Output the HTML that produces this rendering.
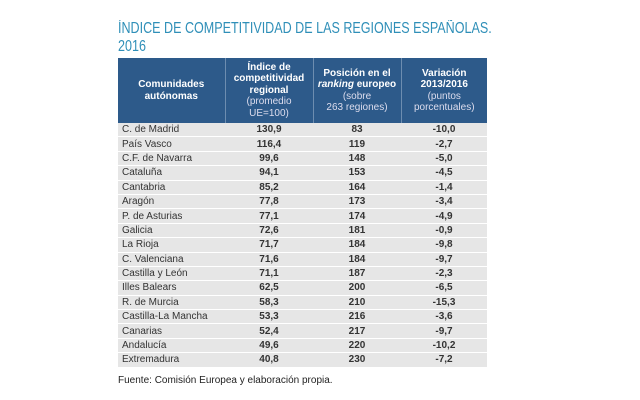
<!DOCTYPE html>
<html><head><meta charset="utf-8"><style>
body{margin:0;width:640px;height:400px;background:#fff;font-family:"Liberation Sans",sans-serif;position:relative;overflow:hidden}
.t{position:absolute;left:118px;top:20px;color:#2f8fb8;font-size:15.5px;line-height:18px;white-space:nowrap;transform:scaleX(0.81);transform-origin:0 0}
table{position:absolute;left:118px;top:58px;width:369px;border-collapse:collapse;font-size:10px;color:#333}
th{background:#2d5a8a;color:#fff;font-weight:bold;font-size:10px;line-height:11.5px;height:65px;padding:0;border-right:1px solid #6d8db0;text-align:center}
th:last-child{border-right:none}
th span{font-weight:normal;color:#dde}
td{background:#e6e6e6;height:13.4px;padding:0;border-bottom:1px solid #fff;line-height:13px}
td:first-child{padding-left:4px;width:103px}
td:nth-child(2){width:88px;text-align:center;font-weight:bold}
td:nth-child(3){width:88px;text-align:center;font-weight:bold}
td:nth-child(4){text-align:center;font-weight:bold}
.f{position:absolute;left:118px;top:375px;font-size:10px;color:#222}
</style></head><body>
<div class="t">ÍNDICE DE COMPETITIVIDAD DE LAS REGIONES ESPAÑOLAS.<br>2016</div>
<table>
<tr><th>Comunidades<br>autónomas</th><th>Índice de<br>competitividad<br>regional<br><span>(promedio<br>UE=100)</span></th><th>Posición en el<br><i>ranking</i> europeo<br><span>(sobre<br>263 regiones)</span></th><th>Variación<br>2013/2016<br><span>(puntos<br>porcentuales)</span></th></tr>
<tr><td>C. de Madrid</td><td>130,9</td><td>83</td><td>-10,0</td></tr>
<tr><td>País Vasco</td><td>116,4</td><td>119</td><td>-2,7</td></tr>
<tr><td>C.F. de Navarra</td><td>99,6</td><td>148</td><td>-5,0</td></tr>
<tr><td>Cataluña</td><td>94,1</td><td>153</td><td>-4,5</td></tr>
<tr><td>Cantabria</td><td>85,2</td><td>164</td><td>-1,4</td></tr>
<tr><td>Aragón</td><td>77,8</td><td>173</td><td>-3,4</td></tr>
<tr><td>P. de Asturias</td><td>77,1</td><td>174</td><td>-4,9</td></tr>
<tr><td>Galicia</td><td>72,6</td><td>181</td><td>-0,9</td></tr>
<tr><td>La Rioja</td><td>71,7</td><td>184</td><td>-9,8</td></tr>
<tr><td>C. Valenciana</td><td>71,6</td><td>184</td><td>-9,7</td></tr>
<tr><td>Castilla y León</td><td>71,1</td><td>187</td><td>-2,3</td></tr>
<tr><td>Illes Balears</td><td>62,5</td><td>200</td><td>-6,5</td></tr>
<tr><td>R. de Murcia</td><td>58,3</td><td>210</td><td>-15,3</td></tr>
<tr><td>Castilla-La Mancha</td><td>53,3</td><td>216</td><td>-3,6</td></tr>
<tr><td>Canarias</td><td>52,4</td><td>217</td><td>-9,7</td></tr>
<tr><td>Andalucía</td><td>49,6</td><td>220</td><td>-10,2</td></tr>
<tr><td>Extremadura</td><td>40,8</td><td>230</td><td>-7,2</td></tr>
</table>
<div class="f">Fuente: Comisión Europea y elaboración propia.</div>
</body></html>
